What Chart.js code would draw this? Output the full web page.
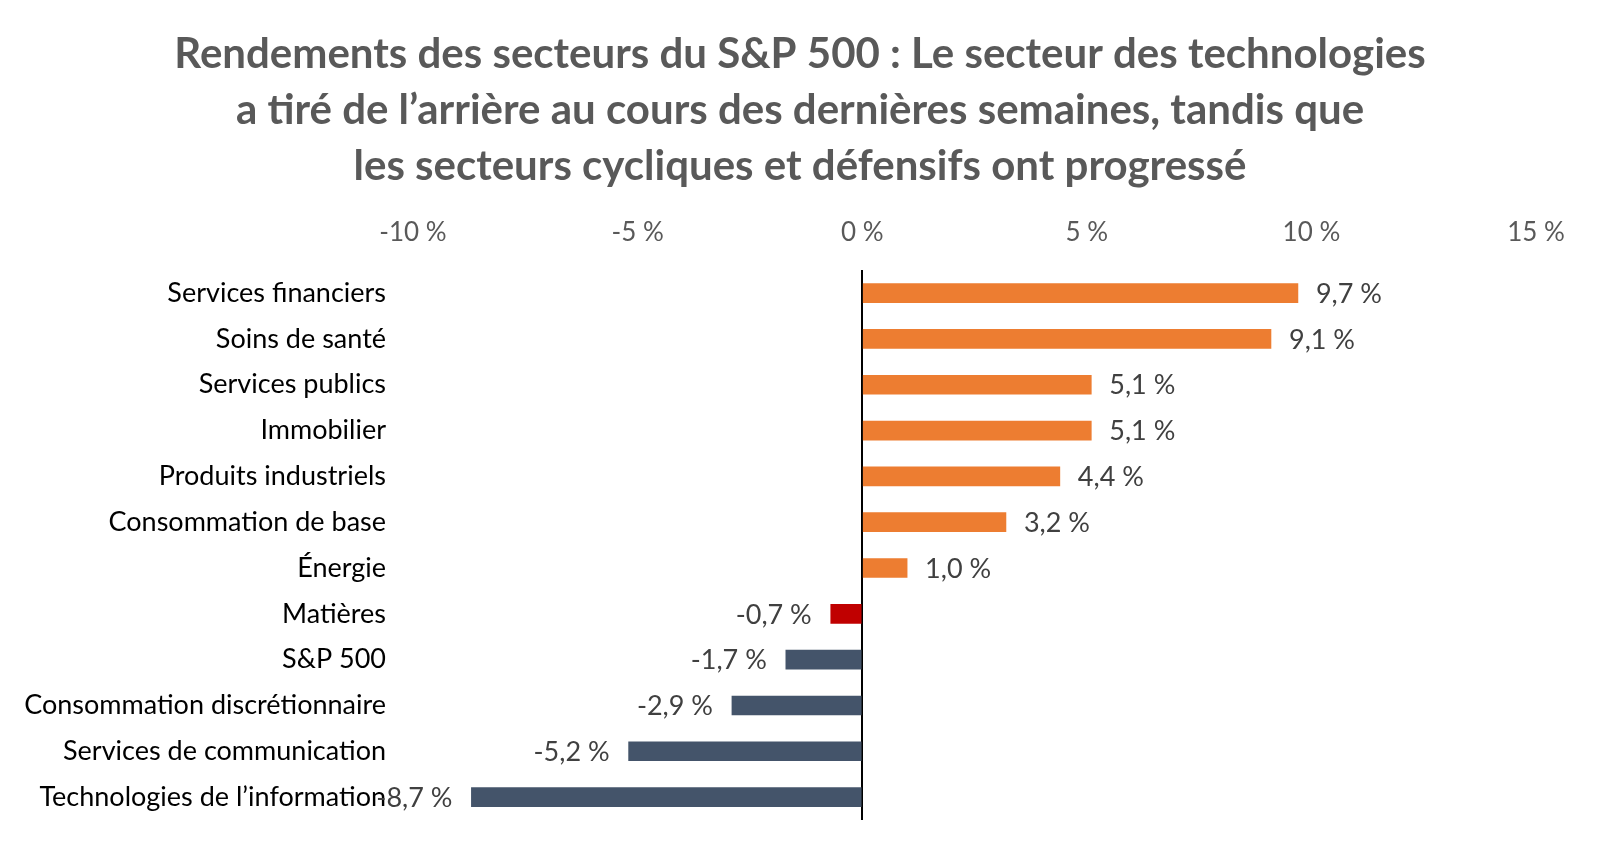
<!DOCTYPE html>
<html>
<head>
<meta charset="utf-8">
<script src="https://cdn.jsdelivr.net/npm/chart.js@4.4.1/dist/chart.umd.min.js"></script>
<style>
  html, body { margin: 0; padding: 0; background: #ffffff; }
  #wrap { width: 1600px; height: 857px; }
</style>
</head>
<body>
<div id="wrap"><canvas id="sectorChart" width="1600" height="857"></canvas></div>
<script>
const sectors = [
  'Services financiers',
  'Soins de santé',
  'Services publics',
  'Immobilier',
  'Produits industriels',
  'Consommation de base',
  'Énergie',
  'Matières',
  'S&P 500',
  'Consommation discrétionnaire',
  'Services de communication',
  'Technologies de l\u2019information'
];
const returns = [9.7, 9.1, 5.1, 5.1, 4.4, 3.2, 1.0, -0.7, -1.7, -2.9, -5.2, -8.7];
const axisTicks = [-10, -5, 0, 5, 10, 15];

const orange = '#ED7D31';
const red = '#C00000';
const slate = '#44546A';
const barColors = returns.map((v, i) => {
  if (v >= 0) return orange;
  if (sectors[i] === 'Matières') return red;
  return slate;
});

const fmt = v => v.toFixed(1).replace('.', ',') + ' %';

// simple value labels next to each bar end
const valueLabels = {
  id: 'valueLabels',
  afterLayout(chart) {
    // let the category labels use the left margin too
    const y = chart.scales.y;
    y.left = 0;
    y.width = y.right;
  },
  afterDatasetsDraw(chart) {
    const ctx = chart.ctx;
    const meta = chart.getDatasetMeta(0);
    ctx.save();
    ctx.font = '27px Lato';
    ctx.fillStyle = '#404040';
    ctx.textBaseline = 'middle';
    meta.data.forEach((bar, i) => {
      const v = returns[i];
      if (v >= 0) {
        ctx.textAlign = 'left';
        ctx.fillText(fmt(v), bar.x + 18, bar.y + 1);
      } else {
        ctx.textAlign = 'right';
        ctx.fillText(fmt(v), bar.x - 19, bar.y + 1);
      }
    });
    ctx.restore();
  }
};

const ctx = document.getElementById('sectorChart').getContext('2d');
const chart = new Chart(ctx, {
  type: 'bar',
  data: {
    labels: sectors,
    datasets: [{
      data: returns,
      backgroundColor: barColors,
      borderWidth: 0,
      barThickness: 19
    }]
  },
  options: {
    indexAxis: 'y',
    responsive: false,
    animation: false,
    layout: { padding: { top: 26, left: 64, right: 64, bottom: 37 } },
    plugins: {
      legend: { display: false },
      tooltip: { enabled: false },
      title: {
        display: true,
        text: [
          'Rendements des secteurs du S&P 500 : Le secteur des technologies',
          'a tiré de l\u2019arrière au cours des dernières semaines, tandis que',
          'les secteurs cycliques et défensifs ont progressé'
        ],
        color: '#595959',
        font: { family: 'Lato', size: 42, weight: 'bold', lineHeight: 1.335 },
        padding: { top: 0, bottom: 0 }
      }
    },
    scales: {
      x: {
        position: 'top',
        min: -10,
        max: 15,
        afterBuildTicks: axis => { axis.ticks = axisTicks.map(v => ({ value: v })); },
        afterFit: axis => { axis.height = 76; },
        ticks: {
          color: '#595959',
          font: { family: 'Lato', size: 26 },
          padding: 22,
          callback: v => v + ' %'
        },
        grid: {
          drawTicks: false,
          lineWidth: 2,
          color: c => (c.tick && c.tick.value === 0 ? '#000000' : 'rgba(0,0,0,0)')
        },
        border: { display: false }
      },
      y: {
        afterFit: axis => {
          axis.width = 349;
          axis.paddingTop = 0;
          axis.paddingBottom = 0;
        },
        ticks: {
          color: '#000000',
          font: { family: 'Lato', size: 27 },
          padding: 27
        },
        grid: { display: false, drawTicks: false },
        border: { display: false }
      }
    }
  },
  plugins: [valueLabels]
});
</script>
</body>
</html>
